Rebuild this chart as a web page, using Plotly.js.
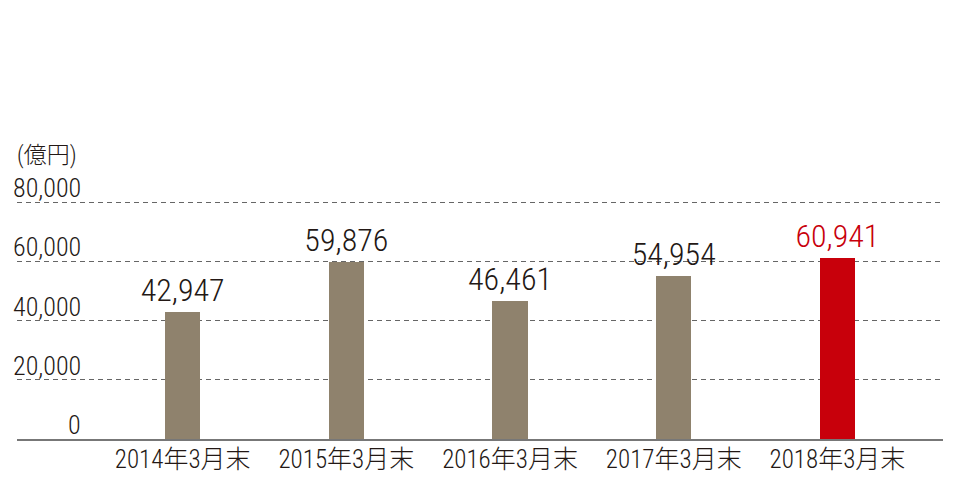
<!DOCTYPE html>
<html><head><meta charset="utf-8">
<script src="https://cdn.plot.ly/plotly-3.0.1.min.js"></script>
<style>html,body{margin:0;padding:0;background:#fff}#c{width:960px;height:480px}</style>
</head><body><div id="c"></div>
<script>
const categories = ["2014年3月末","2015年3月末","2016年3月末","2017年3月末","2018年3月末"];
const values = [42947, 59876, 46461, 54954, 60941];
const barColors = ["#8f826d","#8f826d","#8f826d","#8f826d","#c8000b"];
const labelColors = ["#231815","#231815","#231815","#231815","#c8000b"];
const tickVals = [0, 20000, 40000, 60000, 80000];
const tickText = ["0","20,000","40,000","60,000","80,000"];
const unitLabel = "(億円)";

const FONT = "'Roboto Condensed', 'Noto Sans CJK JP', sans-serif";
const fmt = v => v.toLocaleString("en-US");

const trace = {
  type: "bar",
  x: categories.map((c,i)=>i),
  y: values,
  width: 0.215,
  marker: {color: barColors, line: {width: 0}},
  text: values.map(fmt),
  textposition: "outside",
  constraintext: "none",
  cliponaxis: false,
  textfont: {family: FONT, size: 32, weight: 300, color: labelColors},
  hoverinfo: "none"
};

const annotations = tickVals.map((v,i)=>({
  xref: "paper", yref: "y", x: 0.0713, y: v, xanchor: "right", yanchor: "bottom",
  yshift: -3, text: tickText[i], showarrow: false,
  font: {family: FONT, size: 26, weight: 300, color: "#231815"}
}));
annotations.push({
  xref: "paper", yref: "paper", x: -0.002, y: 1.12, xanchor: "left", yanchor: "bottom",
  text: unitLabel, showarrow: false,
  font: {family: FONT, size: 23, weight: 300, color: "#231815"}
});

const layout = {
  width: 960, height: 480,
  margin: {l: 17, r: 17, t: 200, b: 41, pad: 0},
  paper_bgcolor: "#fff", plot_bgcolor: "#fff",
  showlegend: false,
  bargap: 0,
  xaxis: {
    range: [-1.012, 4.645],
    tickvals: categories.map((c,i)=>i),
    ticktext: categories,
    tickfont: {family: FONT, size: 25, weight: 300, color: "#231815"},
    ticklabelstandoff: -3,
    showgrid: false, zeroline: false,
    showline: true, linecolor: "#777", linewidth: 2,
    ticks: "", fixedrange: true
  },
  yaxis: {
    range: [0, 80675],
    tickvals: [20000, 40000, 60000, 80000],
    showticklabels: false,
    showgrid: true, gridcolor: "#666", gridwidth: 1, griddash: "5px,4px",
    zeroline: false, showline: false, ticks: "", fixedrange: true
  },
  annotations: annotations
};

Plotly.newPlot("c", [trace], layout, {displayModeBar: false, staticPlot: true});
</script></body></html>
